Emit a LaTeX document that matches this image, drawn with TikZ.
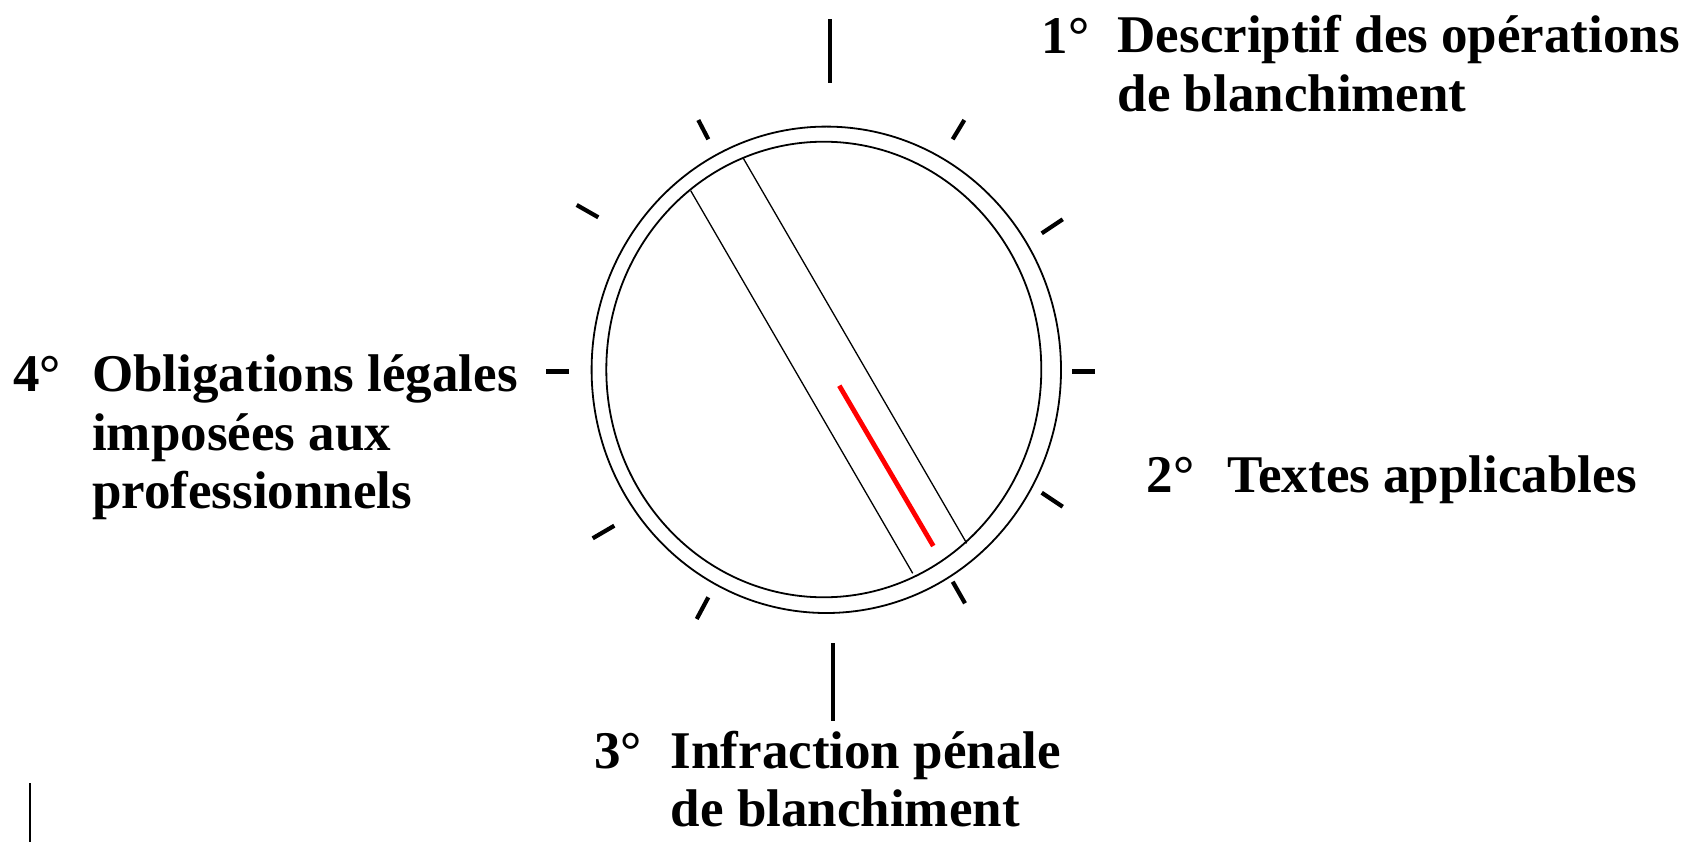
\documentclass[tikz,border=0pt]{standalone}
\usepackage{fontspec}
\setmainfont{Liberation Serif}
\begin{document}
\begin{tikzpicture}[x=1pt,y=-1pt,
  lbl/.style={font=\fontsize{53}{58.5}\selectfont\bfseries, inner sep=0pt, anchor=base west, align=left},
  ring/.style={line width=1.8pt},
  tickline/.style={line width=4.2pt},
  stripe/.style={line width=1.3pt},
  redbar/.style={line width=4.8pt, red}
]
\useasboundingbox (0,0) rectangle (1696,842);

% rings
\draw[ring] (826.3,369.8) ellipse [x radius=234.7pt, y radius=243.2pt];
\draw[ring] (823.8,369.5) ellipse [x radius=217.5pt, y radius=227.8pt];

% ticks
\coordinate (tTa) at (830,19.3);   \coordinate (tTb) at (830,82.7);
\coordinate (tBa) at (832.7,643.3); \coordinate (tBb) at (832.7,720.7);
\coordinate (tLa) at (546,371.5);  \coordinate (tLb) at (569,371.5);
\coordinate (tRa) at (1072,371.5); \coordinate (tRb) at (1095,371.5);
\coordinate (tULa) at (698.3,120); \coordinate (tULb) at (708.3,139.3);
\coordinate (tURa) at (964.3,120); \coordinate (tURb) at (952.7,139.3);
\coordinate (tLUa) at (576.7,205); \coordinate (tLUb) at (598.3,217.3);
\coordinate (tRUa) at (1062.7,219.3); \coordinate (tRUb) at (1041.7,233.3);
\coordinate (tRLa) at (1041.7,492.7); \coordinate (tRLb) at (1062.7,506.7);
\coordinate (tLLa) at (614.3,525.7); \coordinate (tLLb) at (592.7,538.3);
\coordinate (tBRa) at (952.7,581.7); \coordinate (tBRb) at (965,603.3);
\coordinate (tBLa) at (708.3,597.3); \coordinate (tBLb) at (696.7,619);
\foreach \t in {T,B,L,R,UL,UR,LU,RU,RL,LL,BR,BL}
  \draw[tickline] (t\t a) -- (t\t b);

% stripe
\coordinate (sAa) at (690.7,190.7); \coordinate (sAb) at (912.7,573.3);
\coordinate (sBa) at (743.3,158.3); \coordinate (sBb) at (966.7,543.3);
\coordinate (rA) at (839.3,385.7);  \coordinate (rB) at (933.3,546);
\draw[stripe] (sAa) -- (sAb);
\draw[stripe] (sBa) -- (sBb);
\draw[redbar] (rA) -- (rB);

% labels (multi-line nodes are placed by the baseline of their last line)
\node[lbl] (n1) at (1041.6,54) {1°};
\node[lbl] (t1) at (1117.4,111.4) {Descriptif des opérations\\de blanchiment};
\node[lbl] (n2) at (1146.5,492) {2°};
\node[lbl] (t2) at (1227.6,492) {Textes applicables};
\node[lbl] (n3) at (593.8,768) {3°};
\node[lbl] (t3) at (670.6,826.5) {Infraction pénale\\de blanchiment};
\node[lbl] (n4) at (13,391.5) {4°};
\node[lbl] (t4) at (92,508.5) {Obligations légales\\imposées aux\\professionnels};

% fragment at lower left
\coordinate (fa) at (30,783); \coordinate (fb) at (30,842);
\draw[line width=1.3pt] (fa) -- (fb);
\end{tikzpicture}
\end{document}
